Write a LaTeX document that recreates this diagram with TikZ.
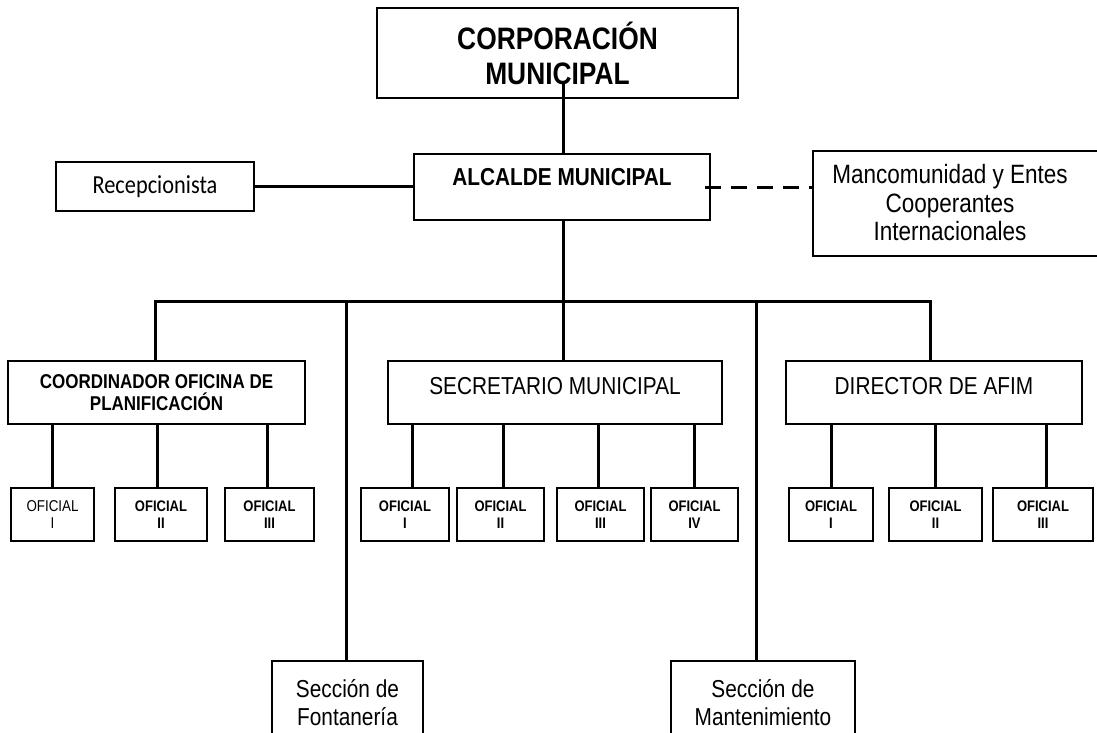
\documentclass[tikz,border=0pt]{standalone}
\usepackage{fontspec}
\setmainfont{Liberation Sans}[FakeStretch=0.85]
\newfontfamily\calfont{Carlito}[FakeStretch=0.86]
\newcommand{\fsz}[2]{\fontsize{#1}{#2}\selectfont}
\begin{document}
\begin{tikzpicture}[x=1pt,y=-1pt,
  box/.style={draw, line width=1.8pt, inner sep=0pt, align=center},
  ofi/.style={box, minimum height=53pt, font=\bfseries\fsz{15.3}{16.5}},
  conn/.style={line width=3pt},
  txt/.style={inner sep=0pt, align=center}]
\useasboundingbox (0,0) rectangle (1097,733);

% top levels
\node[box, minimum width=361pt, minimum height=90pt, font=\bfseries\fsz{31}{35}] (corp) at (557.5,53) {CORPORACIÓN\\MUNICIPAL};
\node[box, minimum width=296pt, minimum height=66pt, font=\bfseries\fsz{24.5}{28}, text height=17.5pt, text depth=20pt] (alc) at (562,187) {ALCALDE MUNICIPAL};
\node[box, minimum width=198pt, minimum height=49pt, font=\calfont\fsz{26}{30}] (rec) at (155,186.5) {Recepcionista};
\node[box, minimum width=288pt, minimum height=105pt] (man) at (957,203.5) {};
\node[txt, font=\fsz{26.5}{28.5}] (mantxt) at (950,203) {Mancomunidad y Entes\\Cooperantes\\Internacionales};

% second level
\node[box, minimum width=297pt, minimum height=63pt, font=\bfseries\fsz{20}{22}] (coord) at (156.5,392.5) {COORDINADOR OFICINA DE\\PLANIFICACIÓN};
\node[box, minimum width=334pt, minimum height=63pt, font=\fsz{24.5}{28}, text height=17.5pt, text depth=13pt] (sec) at (555,392.5) {SECRETARIO MUNICIPAL};
\node[box, minimum width=296pt, minimum height=63pt, font=\fsz{24.5}{28}, text height=17.5pt, text depth=13pt] (dir) at (934,392.5) {DIRECTOR DE AFIM};

% oficiales
\node[ofi, minimum width=83pt, font=\mdseries\fsz{15.7}{16.5}] (c1) at (52.5,514.5) {OFICIAL\\I};
\node[ofi, minimum width=92pt] (c2) at (161,514.5) {OFICIAL\\II};
\node[ofi, minimum width=89pt] (c3) at (269.5,514.5) {OFICIAL\\III};
\node[ofi, minimum width=88pt] (s1) at (405,514.5) {OFICIAL\\I};
\node[ofi, minimum width=87pt] (s2) at (500.5,514.5) {OFICIAL\\II};
\node[ofi, minimum width=87pt] (s3) at (600.5,514.5) {OFICIAL\\III};
\node[ofi, minimum width=87pt] (s4) at (694.5,514.5) {OFICIAL\\IV};
\node[ofi, minimum width=84pt] (d1) at (831,514.5) {OFICIAL\\I};
\node[ofi, minimum width=93pt] (d2) at (935.5,514.5) {OFICIAL\\II};
\node[ofi, minimum width=100pt] (d3) at (1043,514.5) {OFICIAL\\III};

% bottom sections
\node[box, minimum width=151pt, minimum height=84pt, font=\fsz{24.5}{28}] (fon) at (347.5,703) {Sección de\\Fontanería};
\node[box, minimum width=184pt, minimum height=84pt, font=\fsz{24.5}{28}] (mant) at (763,703) {Sección de\\Mantenimiento};

% bus coordinates
\coordinate (ctop) at (563,82);
\coordinate (b1) at (155,301);
\coordinate (b2) at (346,301);
\coordinate (b3) at (563,301);
\coordinate (b4) at (756,301);
\coordinate (b5) at (930,301);

% connectors
\draw[conn] (ctop) -- (ctop |- alc.north);
\draw[conn] (rec.east) -- (rec.east -| alc.west);
\draw[conn, dash pattern=on 16pt off 10pt] ([xshift=-6pt]alc.east) -- (alc.east -| man.west);
\draw[conn] (b3 |- alc.south) -- (b3) -- (b3 |- sec.north);
\draw[conn] (b1 |- coord.north) -- (b1) -- (b5) -- (b5 |- dir.north);
\draw[conn] (b2) -- (b2 |- fon.north);
\draw[conn] (b4) -- (b4 |- mant.north);

\draw[conn] (c1.north) -- (c1.north |- coord.south);
\draw[conn] ([xshift=-4pt]c2.north) -- ([xshift=-4pt]c2.north |- coord.south);
\draw[conn] ([xshift=-2pt]c3.north) -- ([xshift=-2pt]c3.north |- coord.south);
\draw[conn] ([xshift=7pt]s1.north) -- ([xshift=7pt]s1.north |- sec.south);
\draw[conn] ([xshift=3pt]s2.north) -- ([xshift=3pt]s2.north |- sec.south);
\draw[conn] ([xshift=-2pt]s3.north) -- ([xshift=-2pt]s3.north |- sec.south);
\draw[conn] (s4.north) -- (s4.north |- sec.south);
\draw[conn] (d1.north) -- (d1.north |- dir.south);
\draw[conn] (d2.north) -- (d2.north |- dir.south);
\draw[conn] ([xshift=3pt]d3.north) -- ([xshift=3pt]d3.north |- dir.south);
\end{tikzpicture}
\end{document}
